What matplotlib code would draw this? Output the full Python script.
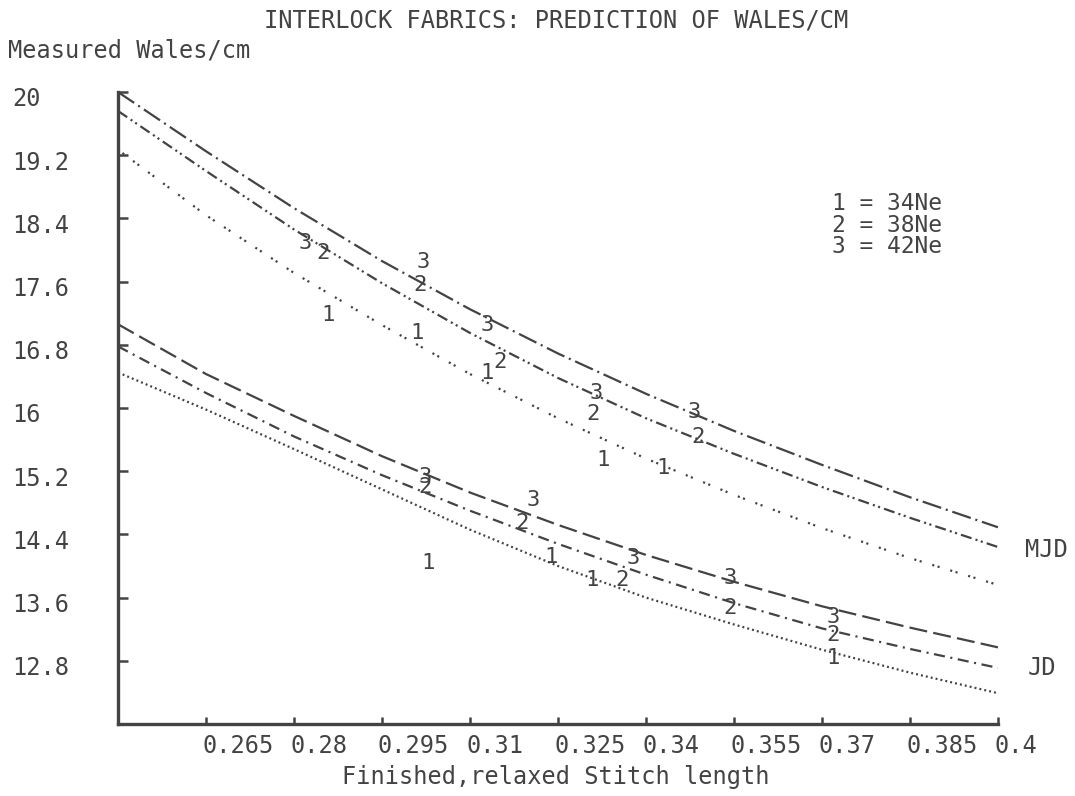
import matplotlib

matplotlib.use("Agg")
import matplotlib.pyplot as plt
import matplotlib.transforms as mtransforms

# stitch length grid for the prediction curves
stitch = [0.25, 0.265, 0.28, 0.295, 0.31, 0.325, 0.34, 0.355, 0.37, 0.385, 0.40]

# MJD predictions (upper group)
mjd_34 = [19.27, 18.44, 17.71, 17.05, 16.43, 15.87, 15.36, 14.90, 14.48, 14.10, 13.76]
mjd_38 = [19.76, 19.00, 18.26, 17.58, 16.95, 16.38, 15.87, 15.42, 15.00, 14.61, 14.24]
mjd_42 = [20.00, 19.25, 18.53, 17.86, 17.25, 16.69, 16.18, 15.71, 15.28, 14.87, 14.49]

# JD predictions (lower group)
jd_34 = [16.45, 15.98, 15.48, 14.97, 14.46, 14.00, 13.60, 13.26, 12.94, 12.65, 12.39]
jd_38 = [16.78, 16.19, 15.64, 15.15, 14.70, 14.28, 13.89, 13.53, 13.21, 12.95, 12.71]
jd_42 = [17.06, 16.43, 15.90, 15.39, 14.93, 14.52, 14.14, 13.80, 13.49, 13.22, 12.97]

# measured points, upper set
upper_x = [0.2819, 0.2849, 0.2858, 0.3020, 0.3015, 0.3010, 0.3129, 0.3151,
           0.3129, 0.3316, 0.3310, 0.3327, 0.3483, 0.3489, 0.3429]
upper_y = [18.09, 17.96, 17.18, 17.85, 17.56, 16.95, 17.05, 16.58,
           16.44, 16.19, 15.92, 15.34, 15.95, 15.63, 15.24]
upper_id = ["3", "2", "1", "3", "2", "1", "3", "2",
            "1", "3", "2", "1", "3", "2", "1"]

# measured points, lower set
lower_x = [0.3023, 0.3023, 0.3028, 0.3207, 0.3189, 0.3238, 0.3378,
           0.3359, 0.3308, 0.3543, 0.3543, 0.3719, 0.3719, 0.3719]
lower_y = [15.13, 15.00, 14.04, 14.84, 14.54, 14.11, 14.10,
           13.82, 13.82, 13.85, 13.47, 13.35, 13.13, 12.84]
lower_id = ["3", "2", "1", "3", "2", "1", "3",
            "2", "1", "3", "2", "3", "2", "1"]

x_ticks = [0.265, 0.28, 0.295, 0.31, 0.325, 0.34, 0.355, 0.37, 0.385, 0.40]
x_labels = ["0.265", "0.28", "0.295", "0.31", "0.325", "0.34",
            "0.355", "0.37", "0.385", "0.4"]
y_ticks = [12.8, 13.6, 14.4, 15.2, 16.0, 16.8, 17.6, 18.4, 19.2, 20.0]
y_labels = ["12.8", "13.6", "14.4", "15.2", "16", "16.8",
            "17.6", "18.4", "19.2", "20"]

legend_lines = ["1 = 34Ne", "2 = 38Ne", "3 = 42Ne"]

INK = "#434343"
FS = 17

plt.rcParams["font.family"] = ["DejaVu Sans Mono"]
plt.rcParams["lines.scale_dashes"] = False

fig = plt.figure(figsize=(10.75, 7.96), dpi=100)
fig.patch.set_facecolor("white")
ax = fig.add_axes([118 / 1075, 72 / 796, 880 / 1075, 632 / 796])

lw = 1.6
styles = {
    "mjd_42": (0, (14, 3.5, 1.5, 3.5)),
    "mjd_38": (0, (8, 3, 1.5, 2.5, 1.5, 3)),
    "mjd_34": (0, (1.5, 2.5, 1.5, 8)),
    "jd_42": (0, (13, 4.5)),
    "jd_38": (0, (8, 4, 1.5, 4)),
    "jd_34": (0, (1.4, 2.2)),
}
ax.plot(stitch, mjd_42, color=INK, lw=lw, ls=styles["mjd_42"])
ax.plot(stitch, mjd_38, color=INK, lw=lw, ls=styles["mjd_38"])
ax.plot(stitch, mjd_34, color=INK, lw=lw, ls=styles["mjd_34"])
ax.plot(stitch, jd_42, color=INK, lw=lw, ls=styles["jd_42"])
ax.plot(stitch, jd_38, color=INK, lw=lw, ls=styles["jd_38"])
ax.plot(stitch, jd_34, color=INK, lw=lw, ls=styles["jd_34"])

for xs, ys, ids in ((upper_x, upper_y, upper_id), (lower_x, lower_y, lower_id)):
    for x, y, s in zip(xs, ys, ids):
        ax.text(x, y, s, ha="center", va="center", fontsize=FS - 1, color=INK)

ax.set_xlim(0.25, 0.40)
ax.set_ylim(12.0, 20.0)

for side in ("top", "right"):
    ax.spines[side].set_visible(False)
for side in ("left", "bottom"):
    ax.spines[side].set_linewidth(2.4)
    ax.spines[side].set_color(INK)

ax.set_xticks(x_ticks)
ax.set_xticklabels(x_labels)
ax.set_yticks(y_ticks)
ax.set_yticklabels(y_labels)
ax.tick_params(axis="x", direction="in", length=5, width=1.8, color=INK,
               labelsize=FS, labelcolor=INK, pad=7)
ax.tick_params(axis="y", direction="in", length=7, width=1.8, color=INK,
               labelsize=FS, labelcolor=INK, pad=76)

dx = mtransforms.ScaledTranslation(-4 / 100, 0, fig.dpi_scale_trans)
for lab in ax.get_xticklabels():
    lab.set_horizontalalignment("left")
    lab.set_transform(lab.get_transform() + dx)
dy = mtransforms.ScaledTranslation(0, -5 / 100, fig.dpi_scale_trans)
for lab in ax.get_yticklabels():
    lab.set_horizontalalignment("left")
    lab.set_transform(lab.get_transform() + dy)

# curve group names at the right end
ax.text(0.4046, 14.20, "MJD", ha="left", va="center", fontsize=FS,
        color=INK, clip_on=False)
ax.text(0.4051, 12.71, "JD", ha="left", va="center", fontsize=FS,
        color=INK, clip_on=False)

for i, line in enumerate(legend_lines):
    ax.text(0.811, 0.823 - i * 0.0335, line, transform=ax.transAxes,
            ha="left", va="center", fontsize=FS - 0.5, color=INK)

fig.text(556 / 1075, 1 - 20 / 796, "INTERLOCK FABRICS: PREDICTION OF WALES/CM",
         ha="center", va="center", fontsize=FS, color=INK)
fig.text(8 / 1075, 1 - 50 / 796, "Measured Wales/cm",
         ha="left", va="center", fontsize=FS, color=INK)
fig.text(556 / 1075, 1 - 777 / 796, "Finished,relaxed Stitch length",
         ha="center", va="center", fontsize=FS, color=INK)

fig.savefig("out.png", dpi=100, facecolor="white")
